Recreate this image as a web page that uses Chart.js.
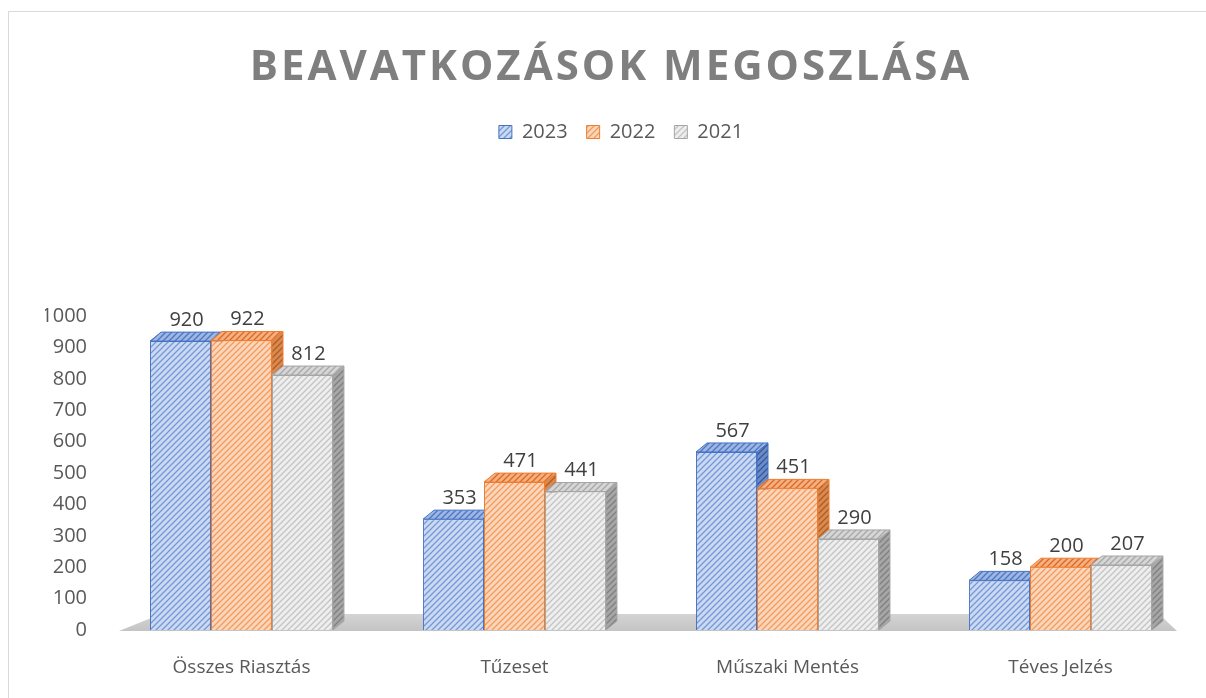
<!DOCTYPE html>
<html>
<head>
<meta charset="utf-8">
<script src="https://cdn.jsdelivr.net/npm/chart.js@4.4.1/dist/chart.umd.min.js"></script>
<style>
  html, body { margin: 0; background: #fff; }
</style>
</head>
<body>
<canvas id="chart" width="1206" height="698"></canvas>
<script>
const categories = ['Összes Riasztás', 'Tűzeset', 'Műszaki Mentés', 'Téves Jelzés'];
const years = ['2023', '2022', '2021'];
const values2023 = [920, 353, 567, 158];
const values2022 = [922, 471, 451, 200];
const values2021 = [812, 441, 290, 207];
const yTicks = [0, 100, 200, 300, 400, 500, 600, 700, 800, 900, 1000];

const TITLE = 'BEAVATKOZÁSOK MEGOSZLÁSA';
const FONT = '"Open Sans", "Liberation Sans", sans-serif';
const DX = 11, DY = -9; // 3d depth of the bars

// diagonal hatch fill, like the excel pattern fill
function hatch(bg, fg) {
  const c = document.createElement('canvas');
  c.width = c.height = 6;
  const g = c.getContext('2d');
  g.fillStyle = bg;
  g.fillRect(0, 0, 6, 6);
  g.strokeStyle = fg;
  g.lineWidth = 1.3;
  g.beginPath();
  g.moveTo(0, 6); g.lineTo(6, 0);
  g.moveTo(-1, 1); g.lineTo(1, -1);
  g.moveTo(5, 7); g.lineTo(7, 5);
  g.stroke();
  return g.createPattern(c, 'repeat');
}

const looks = [
  { front: hatch('#cbdaf2', '#7598d6'), top: hatch('#9db6e3', '#4f76c0'), side: hatch('#6a8cc9', '#36589a'), edge: '#4472c4' },
  { front: hatch('#fcd6ba', '#f29b5f'), top: hatch('#f5b07e', '#d9692a'), side: hatch('#d88a55', '#b35a1e'), edge: '#ed7d31' },
  { front: hatch('#eeeeee', '#c4c4c4'), top: hatch('#d6d6d6', '#a8a8a8'), side: hatch('#a6a6a6', '#808080'), edge: '#a5a5a5' }
];

const bars3d = {
  id: 'bars3d',
  beforeDraw(chart) {
    const ctx = chart.ctx;
    ctx.save();
    ctx.strokeStyle = '#d9d9d9';
    ctx.lineWidth = 1;
    ctx.strokeRect(8.5, 11.5, 1300, 900);
    ctx.restore();
  },
  beforeDatasetsDraw(chart) {
    const ctx = chart.ctx;
    const a = chart.chartArea;
    const y0 = chart.scales.y.getPixelForValue(0) + 1;
    ctx.save();
    // floor
    const grd = ctx.createLinearGradient(0, y0 - 17, 0, y0);
    grd.addColorStop(0, '#d4d4d4');
    grd.addColorStop(1, '#c4c4c4');
    ctx.fillStyle = grd;
    ctx.beginPath();
    ctx.moveTo(a.left + 14, y0);
    ctx.lineTo(a.left + 56, y0 - 17);
    ctx.lineTo(a.right - 38, y0 - 17);
    ctx.lineTo(a.right - 20, y0);
    ctx.closePath();
    ctx.fill();
    // top and side faces
    ctx.lineWidth = 1;
    for (let j = 0; j < categories.length; j++) {
      chart.data.datasets.forEach((ds, i) => {
        const bar = chart.getDatasetMeta(i).data[j];
        const L = bar.x - bar.width / 2, R = bar.x + bar.width / 2, T = bar.y, B = bar.base;
        const lk = looks[i];
        ctx.strokeStyle = lk.edge;
        ctx.fillStyle = lk.side;
        ctx.beginPath();
        ctx.moveTo(R, T); ctx.lineTo(R + DX, T + DY); ctx.lineTo(R + DX, B + DY); ctx.lineTo(R, B);
        ctx.closePath(); ctx.fill(); ctx.stroke();
        ctx.fillStyle = lk.top;
        ctx.beginPath();
        ctx.moveTo(L, T); ctx.lineTo(L + DX, T + DY); ctx.lineTo(R + DX, T + DY); ctx.lineTo(R, T);
        ctx.closePath(); ctx.fill(); ctx.stroke();
      });
    }
    ctx.restore();
  },
  afterDatasetsDraw(chart) {
    const ctx = chart.ctx;
    ctx.save();
    ctx.font = '20px ' + FONT;
    ctx.fillStyle = '#404040';
    ctx.textAlign = 'center';
    ctx.textBaseline = 'bottom';
    chart.data.datasets.forEach((ds, i) => {
      chart.getDatasetMeta(i).data.forEach((bar, j) => {
        ctx.fillText(ds.data[j], bar.x + 6, bar.y + DY - 2);
      });
    });
    // title
    ctx.font = 'bold 42px ' + FONT;
    ctx.fillStyle = '#7f7f7f';
    ctx.letterSpacing = '3px';
    ctx.textBaseline = 'middle';
    ctx.fillText(TITLE, 611, 68);
    ctx.restore();
  },
  afterInit(chart) {
    const legend = chart.legend;
    const fit = legend.fit;
    legend.fit = function () { fit.call(this); this.height += 164; };
  }
};

new Chart(document.getElementById('chart'), {
  type: 'bar',
  data: {
    labels: categories,
    datasets: [values2023, values2022, values2021].map((vals, i) => ({
      label: years[i],
      data: vals,
      backgroundColor: looks[i].front,
      borderColor: looks[i].edge,
      borderWidth: 1,
      categoryPercentage: 0.67,
      barPercentage: 1.0
    }))
  },
  options: {
    responsive: false,
    animation: false,
    layout: { padding: { top: 103, left: 45, right: 9, bottom: 0 } },
    plugins: {
      title: { display: false },
      tooltip: { enabled: false },
      legend: {
        position: 'top',
        labels: {
          boxWidth: 13, boxHeight: 13, padding: 19,
          color: '#595959',
          font: { family: FONT, size: 20 }
        }
      }
    },
    scales: {
      x: {
        grid: { display: false },
        border: { display: false },
        ticks: { color: '#595959', font: { family: FONT, size: 19 }, padding: 18 },
        afterFit(s) { s.height = 68; }
      },
      y: {
        min: 0, max: 1000,
        afterBuildTicks(s) { s.ticks = yTicks.map(v => ({ value: v })); },
        grid: { display: false },
        border: { display: false },
        ticks: { color: '#595959', font: { family: FONT, size: 20 }, padding: 10, callback: v => String(v) },
        afterFit(s) { s.width = 60; }
      }
    }
  },
  plugins: [bars3d]
});
</script>
</body>
</html>
